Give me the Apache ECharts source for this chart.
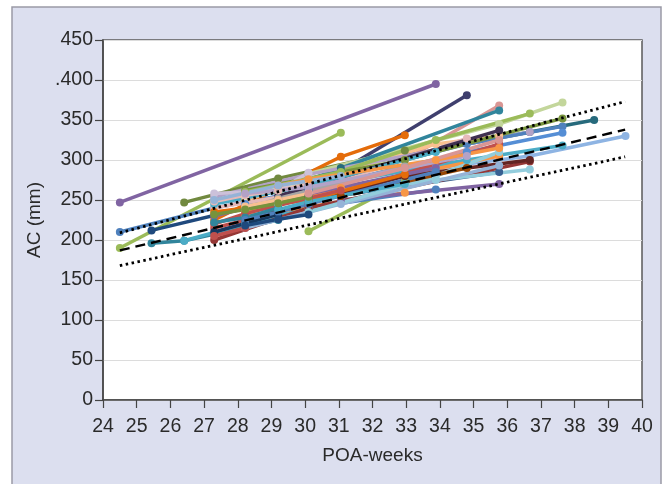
<!DOCTYPE html>
<html>
<head>
<meta charset="utf-8">
<script src="https://cdn.jsdelivr.net/npm/echarts@6/dist/echarts.min.js"></script>
<style>
html,body{margin:0;padding:0;background:#fff;}
#chart{width:670px;height:484px;}
</style>
</head>
<body>
<div id="chart"></div>
<script>
// ---- data ----
const xTickLabels = ['24','25','26','27','28','29','30','31','32','33','34','35','36','37','38','39','40'];
const yTickLabels = ['0','50','100','150','200','250','300','350','.400','450'];
const xAxisTitle = 'POA-weeks';
const yAxisTitle = 'AC (mm)';

// each patient: weeks and AC values
const patientWeeks = [
  [24.5,33.88],
  [30.1,34.8],
  [24.5,31.06],
  [26.41,29.2,32.96],
  [24.5,27.3,30.1],
  [25.44,28.22,30.1],
  [25.44,26.41,29.2],
  [26.41,28.22,30.1],
  [27.3,31.06,32.96],
  [30.1,35.76,37.64],
  [31.06,36.67,38.58],
  [33.88,36.67,39.51],
  [29.2,32.96,35.76],
  [30.1,35.76],
  [28.22,33.88,35.76],
  [30.1,32.96],
  [28.22,32.96],
  [30.1,33.88],
  [31.06,35.76],
  [30.1,35.76],
  [27.3,30.1,36.67],
  [27.3,30.1,36.67],
  [29.2,33.88,36.67],
  [29.2,33.88,36.67],
  [30.1,34.8,37.64],
  [28.22,34.8,37.64],
  [30.1,34.8,37.64],
  [28.22,32.96,37.64],
  [27.3,30.1,34.8],
  [29.2,35.76],
  [27.3,30.1,35.76],
  [28.22,31.06,35.76],
  [28.22,32.96,36.67],
  [27.3,29.2,33.88],
  [28.22,30.1],
  [27.3,30.1,33.88],
  [27.3,29.2,30.1],
  [27.3,29.2],
  [27.3,30.1,32.96],
  [28.22,31.06,35.76],
  [28.22,31.06],
  [30.1,33.88,35.76],
  [31.06,34.8],
  [28.22,29.2,32.96],
  [27.3,28.22,31.06],
  [27.3,28.22,29.2,30.1],
  [27.3,28.22,29.2],
  [28.22,29.2,30.1],
  [27.3,28.22],
  [28.22,29.2,30.1,33.88],
  [29.2,30.1,32.96],
  [27.3,28.22,29.2,30.1],
  [28.22,30.1,34.8],
  [29.2,30.1,33.88,35.76],
  [27.3,29.2,31.06],
  [30.1,32.96,35.76],
  [28.22,29.2,30.1]
];
const patientAC = [
  [247,395],
  [262,381],
  [190,334],
  [247,277,312],
  [210,240,262],
  [212,240,255],
  [196,199,225],
  [199,220,240],
  [225,304,331],
  [283,345,372],
  [290,335,350],
  [290,305,330],
  [265,300,368],
  [275,362],
  [250,320,330],
  [211,273],
  [230,259],
  [240,263],
  [250,270],
  [250,285],
  [254,282,335],
  [200,240,298],
  [245,275,288],
  [260,325,358],
  [270,320,342],
  [245,310,334],
  [265,300,318],
  [262,300,352],
  [240,260,327],
  [255,337],
  [215,245,320],
  [235,265,305],
  [225,280,300],
  [230,250,290],
  [255,275],
  [245,268,310],
  [258,262,284],
  [210,232],
  [235,250,282],
  [215,245,293],
  [260,285],
  [235,280,310],
  [255,290],
  [238,252,292],
  [220,233,262],
  [248,256,262,270],
  [222,228,240],
  [242,250,258],
  [205,215],
  [225,235,245,285],
  [238,248,270],
  [232,238,246,254],
  [258,266,305],
  [268,276,300,315],
  [250,268,280],
  [258,290,325],
  [218,226,232]
];
const patientColors = [
  '#8064a2','#3f3f6e','#9bbb59','#71893f','#4f81bd','#1f497d','#31859c','#4bacc6','#e46c0a',
  '#c3d69b','#276a7c','#8eb4e3','#d99694','#31859c','#fac090','#9bbb59','#f79646','#4f81bd',
  '#8064a2','#376092','#b3a2c7','#953735','#93cddd','#9bbb59','#4f81bd','#558ed5','#4bacc6',
  '#77933c','#e6b9b8','#403152','#c0504d','#f79646','#632523','#8064a2','#d7e4bd','#4bacc6',
  '#ccc1da','#17375e','#e46c0a','#95b3d7','#9bbb59','#92cddc','#984807','#a5a5a5','#c0504d',
  '#e6b9b8','#31859c','#fac090','#c0504d','#4f81bd','#4bacc6','#77933c','#b3a2c7','#f79646',
  '#95b3d7','#d99694','#1f497d'
];

// reference lines
const refWeeks = [24.5, 39.5];
const upperBand = [209, 373];
const meanLine = [187, 338];
const lowerBand = [168, 304];

// ---- chart ----
const chart = echarts.init(document.getElementById('chart'));
const font = 'Liberation Sans, Arial, sans-serif';

const series = patientWeeks.map((w, i) => ({
  type: 'line',
  data: w.map((x, j) => [x, patientAC[i][j]]),
  symbol: 'circle',
  symbolSize: 8,
  showSymbol: true,
  lineStyle: { width: 3.5, color: patientColors[i] },
  itemStyle: { color: patientColors[i] },
  z: 3,
  silent: true,
  animation: false
}));

function refLine(vals, dash, w) {
  return {
    type: 'line',
    data: refWeeks.map((x, j) => [x, vals[j]]),
    symbol: 'none',
    lineStyle: { width: w, color: '#000', type: dash },
    z: 10,
    silent: true,
    animation: false
  };
}
series.push(refLine(upperBand, [2.5, 3.5], 2.8));
series.push(refLine(meanLine, [10, 6], 2.4));
series.push(refLine(lowerBand, [2.5, 3.5], 2.8));

chart.setOption({
  animation: false,
  backgroundColor: '#ffffff',
  graphic: [{
    type: 'rect',
    z: -10,
    shape: { x: 12, y: 7, width: 649, height: 490 },
    style: { fill: '#dcdfef', stroke: '#9a9aa6', lineWidth: 1.5 }
  }],
  grid: {
    left: 103, right: 28, top: 40, bottom: 84,
    show: true, backgroundColor: '#ffffff', borderColor: '#5a5a5a', borderWidth: 1.5
  },
  xAxis: {
    type: 'value', min: 24, max: 40, interval: 1,
    name: xAxisTitle, nameLocation: 'middle', nameGap: 46,
    nameTextStyle: { fontFamily: font, fontSize: 19, color: '#2a2a2a' },
    axisLine: { show: true, lineStyle: { color: '#444', width: 1.5 } },
    axisTick: { show: true, length: 8, lineStyle: { color: '#444', width: 1.2 } },
    axisLabel: { fontFamily: font, fontSize: 19.5, color: '#2a2a2a', margin: 17,
      formatter: v => xTickLabels[Math.round(v - 24)] },
    splitLine: { show: false }
  },
  yAxis: {
    type: 'value', min: 0, max: 450, interval: 50,
    name: yAxisTitle, nameLocation: 'middle', nameGap: 58, nameRotate: 90,
    nameTextStyle: { fontFamily: font, fontSize: 19, color: '#2a2a2a' },
    axisLine: { show: true, lineStyle: { color: '#444', width: 1.5 } },
    axisTick: { show: true, length: 8, lineStyle: { color: '#444', width: 1.2 } },
    axisLabel: { fontFamily: font, fontSize: 19.5, color: '#2a2a2a', margin: 10,
      formatter: v => yTickLabels[Math.round(v / 50)] },
    splitLine: { show: true, lineStyle: { color: '#dcdcdc', width: 1.2 } }
  },
  series: series
});
</script>
</body>
</html>
